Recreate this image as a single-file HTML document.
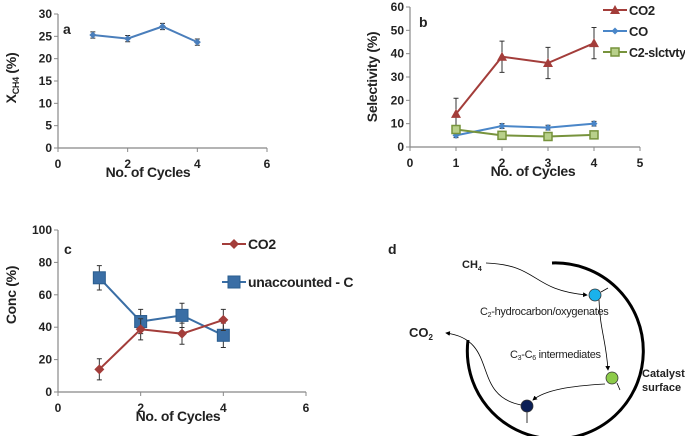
<!DOCTYPE html>
<html><head><meta charset="utf-8"><style>
html,body{margin:0;padding:0;background:#fff}
svg{display:block;font-family:"Liberation Sans",sans-serif}
.t{font-size:12px;font-weight:bold;fill:#222}
.ti{font-size:14px;font-weight:bold;fill:#222;letter-spacing:-0.3px}
</style></head><body>
<svg id="s" width="685" height="436" viewBox="0 0 685 436" xmlns="http://www.w3.org/2000/svg">
<g id="pa"></g>
<g id="pb"></g>
<g id="pc"></g>
<g id="pd">
  <text x="388" y="254" class="ti">d</text>
  <path d="M552,263 A88,88 0 1 1 468,340" fill="none" stroke="#000" stroke-width="3"/>
  <defs><marker id="ar" markerWidth="6" markerHeight="6" refX="5" refY="3" orient="auto"><path d="M0,0 L6,3 L0,6 z" fill="#000"/></marker></defs>
  <path d="M486,263 C540,265 530,290 587,295" fill="none" stroke="#000" stroke-width="0.8" marker-end="url(#ar)"/>
  <path d="M599,300 C600,330 606,340 608,370" fill="none" stroke="#000" stroke-width="0.8" marker-end="url(#ar)"/>
  <path d="M605,384 C570,386 545,390 533,400" fill="none" stroke="#000" stroke-width="0.8" marker-end="url(#ar)"/>
  <path d="M521,405 C470,395 500,340 446,333" fill="none" stroke="#000" stroke-width="0.8" marker-end="url(#ar)"/>
  <line x1="601" y1="292" x2="608" y2="288" stroke="#000" stroke-width="0.8"/>
  <line x1="617" y1="383" x2="620" y2="390" stroke="#000" stroke-width="0.8"/>
  <line x1="527" y1="412" x2="527" y2="423" stroke="#000" stroke-width="0.8"/>
  <circle cx="595" cy="295" r="6" fill="#1ab2ec" stroke="#333" stroke-width="0.8"/>
  <circle cx="612" cy="378" r="6" fill="#8dcb4a" stroke="#333" stroke-width="0.8"/>
  <circle cx="527" cy="406" r="6" fill="#0b1f55" stroke="#333" stroke-width="0.8"/>
  <text x="462" y="268" font-size="11" font-weight="bold" fill="#222">CH<tspan font-size="7" dy="3">4</tspan></text>
  <text x="480" y="315" font-size="11" fill="#222" letter-spacing="-0.3">C<tspan font-size="7" dy="2">2</tspan><tspan dy="-2">-hydrocarbon/oxygenates</tspan></text>
  <text x="409" y="337" font-size="13" font-weight="bold" fill="#222">CO<tspan font-size="8" dy="3">2</tspan></text>
  <text x="510" y="358" font-size="11" fill="#222" letter-spacing="-0.3">C<tspan font-size="7" dy="2">3</tspan><tspan dy="-2">-C</tspan><tspan font-size="7" dy="2">6</tspan><tspan dy="-2"> intermediates</tspan></text>
  <text x="642" y="377" font-size="11" font-weight="bold" fill="#222">Catalyst</text>
  <text x="642" y="391" font-size="11" font-weight="bold" fill="#222">surface</text>
</g>
</svg>
<script>
const aCycles=[1,2,3,4];
const aConv=[25.3,24.5,27.2,23.7];
const aErr=[0.7,0.7,0.7,0.7];
const aYTicks=[0,5,10,15,20,25,30];
const aXTicks=[0,2,4,6];

const bCycles=[1,2,3,4];
const bCO2=[14.2,38.7,36,44.5];
const bCO2Err=[6.7,6.7,6.7,6.7];
const bCO=[5,9,8.3,10];
const bCOErr=[1,1,1,1];
const bC2=[7.5,5,4.5,5.2];
const bYTicks=[0,10,20,30,40,50,60];
const bXTicks=[0,1,2,3,4,5];

const cCycles=[1,2,3,4];
const cCO2=[14,38.7,36,44.5];
const cCO2Err=[6.5,6.5,6.5,6.5];
const cUnacc=[70.5,43.5,47.3,35];
const cUnaccErr=[7.5,7.5,7.5,7.5];
const cYTicks=[0,20,40,60,80,100];
const cXTicks=[0,2,4,6];

const NS='http://www.w3.org/2000/svg';
function mk(p,tag,at,txt){const e=document.createElementNS(NS,tag);for(const k in at)e.setAttribute(k,at[k]);if(txt!==undefined)e.textContent=txt;p.appendChild(e);return e;}
function axes(g,o){
  const sx=v=>o.x0+(v-o.xmin)/(o.xmax-o.xmin)*(o.x1-o.x0);
  const sy=v=>o.y0-(v-o.ymin)/(o.ymax-o.ymin)*(o.y0-o.y1);
  mk(g,'line',{x1:o.x0,y1:o.y0,x2:o.x0,y2:o.y1,stroke:'#888','stroke-width':1.2});
  mk(g,'line',{x1:o.x0,y1:o.y0,x2:o.x1,y2:o.y0,stroke:'#888','stroke-width':1.2});
  o.yt.forEach(v=>{mk(g,'line',{x1:o.x0-4,y1:sy(v),x2:o.x0,y2:sy(v),stroke:'#888'});
    const t=mk(g,'text',{x:o.x0-6,y:sy(v)+4,'text-anchor':'end',class:'t'},v);
    
    });
  o.xt.forEach(v=>{mk(g,'line',{x1:sx(v),y1:o.y0,x2:sx(v),y2:o.y0+4,stroke:'#888'});
    const t=mk(g,'text',{x:sx(v),y:o.y0+20,'text-anchor':'middle',class:'t'},v);
    
    });
  const xt=mk(g,'text',{x:o.xtx,y:o.y0+29,'text-anchor':'middle',class:'ti'},'No. of Cycles');
  
  
  return {sx,sy};
}
function series(g,s,xs,ys,err,color,marker,name){
  if(err){xs.forEach((x,i)=>{const X=s.sx(x),a=s.sy(ys[i]-err[i]),b=s.sy(ys[i]+err[i]);
    mk(g,'path',{d:`M${X},${a}V${b}M${X-2.5},${a}h5M${X-2.5},${b}h5`,stroke:'#333','stroke-width':1,fill:'none'});});}
  const l=mk(g,'polyline',{points:xs.map((x,i)=>s.sx(x)+','+s.sy(ys[i])).join(' '),fill:'none',stroke:color,'stroke-width':2});
  
  
  xs.forEach((x,i)=>{const m=drawMarker(g,s.sx(x),s.sy(ys[i]),marker,color);
    
    });
}
function drawMarker(g,X,Y,m,c){
  if(m==='tri')return mk(g,'path',{d:`M${X},${Y-5}L${X+5},${Y+4}L${X-5},${Y+4}z`,fill:c});
  if(m==='dia')return mk(g,'path',{d:`M${X},${Y-3.5}L${X+3.5},${Y}L${X},${Y+3.5}L${X-3.5},${Y}z`,fill:c});
  if(m==='dia5')return mk(g,'path',{d:`M${X},${Y-5}L${X+5},${Y}L${X},${Y+5}L${X-5},${Y}z`,fill:c});
  if(m==='sqo')return mk(g,'rect',{x:X-4,y:Y-4,width:8,height:8,fill:'#b8d08a',stroke:c,'stroke-width':1.5});
  if(m==='sq')return mk(g,'rect',{x:X-6,y:Y-6,width:12,height:12,fill:c,stroke:'#2a5d8f','stroke-width':1});
}
function legend(g,x,y,txt,color,marker,name,fs){
  const l=mk(g,'line',{x1:x,y1:y,x2:x+24,y2:y,stroke:color,'stroke-width':2});
  
  
  drawMarker(g,x+12,y,marker,color);
  const t=mk(g,'text',{x:x+26,y:y+5,class:'ti','font-size':fs||14,style:fs?'font-size:'+fs+'px':''},txt);
  
  
}
// Panel a
(function(){const g=document.getElementById('pa');
 const s=axes(g,{x0:58,x1:267,y0:148,y1:14,xmin:0,xmax:6,ymin:0,ymax:30,yt:aYTicks,xt:aXTicks,xtx:148});
 series(g,s,aCycles,aConv,aErr,'#4a7ebb','dia','ch4-conversion');
 const yt=mk(g,'text',{transform:'translate(16,78) rotate(-90)','text-anchor':'middle',class:'ti'});
 yt.innerHTML='X<tspan font-size="9" dy="3">CH4</tspan><tspan dy="-3"> (%)</tspan>';
 
 
 const p=mk(g,'text',{x:63,y:34,class:'ti'},'a');
 
 
})();
// Panel b
(function(){const g=document.getElementById('pb');
 const s=axes(g,{x0:410,x1:640,y0:147,y1:7,xmin:0,xmax:5,ymin:0,ymax:60,yt:bYTicks,xt:bXTicks,xtx:533});
 series(g,s,bCycles,bCO2,bCO2Err,'#a33d3a','tri','co2');
 series(g,s,bCycles,bCO,bCOErr,'#4a86c8','dia','co');
 series(g,s,bCycles,bC2,null,'#77933c','sqo','c2-selectivity');
 legend(g,603,10,'CO2','#a33d3a','tri','co2',13);
 legend(g,603,31,'CO','#4a86c8','dia','co',13);
 legend(g,603,52,'C2-slctvty','#77933c','sqo','c2-selectivity',12.5);
 const yt=mk(g,'text',{transform:'translate(377,77) rotate(-90)','text-anchor':'middle',class:'ti'},'Selectivity (%)');
 
 
 const p=mk(g,'text',{x:419,y:27,class:'ti'},'b');
 
 
})();
// Panel c
(function(){const g=document.getElementById('pc');
 const s=axes(g,{x0:58,x1:306,y0:392,y1:230,xmin:0,xmax:6,ymin:0,ymax:100,yt:cYTicks,xt:cXTicks,xtx:178});
 series(g,s,cCycles,cUnacc,cUnaccErr,'#3a6ea5','sq','unaccounted-c');
 series(g,s,cCycles,cCO2,cCO2Err,'#a33d3a','dia5','co2');
 legend(g,222,244,'CO2','#a33d3a','dia5','co2');
 legend(g,222,282,'unaccounted - C','#3a6ea5','sq','unaccounted-c');
 const yt=mk(g,'text',{transform:'translate(16,295) rotate(-90)','text-anchor':'middle',class:'ti'},'Conc (%)');
 
 
 const p=mk(g,'text',{x:64,y:254,class:'ti'},'c');
 
 
})();
</script>
</body></html>
